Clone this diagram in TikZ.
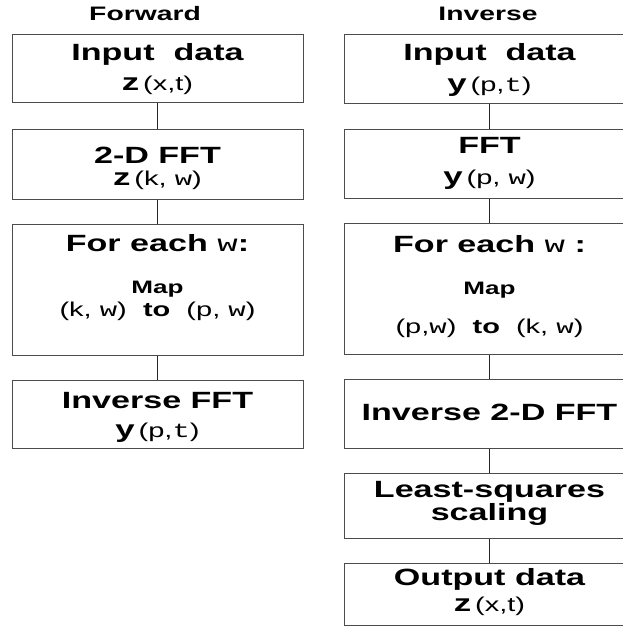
\documentclass[tikz,border=0pt]{standalone}
\usepackage{fontspec}
\setmainfont{Liberation Sans}[FakeStretch=1.45]
\newfontfamily\monof{Liberation Mono}[FakeStretch=1.45]
\newcommand{\mw}{{\monof\mdseries w}}
\newcommand{\mt}{{\monof\mdseries t}}
\newcommand{\fld}[2]{{\fontsize{24}{28}\selectfont\bfseries #1}\,{\fontsize{20}{24}\selectfont\mdseries #2}}
\begin{document}
\begin{tikzpicture}[x=1pt,y=-1pt,
  box/.style={draw=black!70,line width=0.9pt,minimum width=291pt,inner sep=0pt,
    anchor=north,align=center,font=\fontsize{23.5}{28}\selectfont\bfseries},
  title/.style={font=\fontsize{19.5}{22}\selectfont\bfseries},
  link/.style={draw=black!85,line width=0.8pt}]
\useasboundingbox (0,0) rectangle (622,631);

% Column titles
\node[title] (fwd) at (145,14) {Forward};
\node[title] (inv) at (488,14) {Inverse};

% Forward column (text height = last baseline, text depth = rest of box)
\node[box,text height=56pt,text depth=12pt] (f1) at (157.5,34) {Input\ \ data\\[2pt]\fld{z}{(x,t)}};
\node[box,text height=56pt,text depth=14pt] (f2) at (157.5,129) {2-D FFT\\[-6pt]\fld{z}{(k, \mw)}};
\node[box,text height=92pt,text depth=39pt] (f3) at (157.5,224) {For each \mw:\\[14pt]{\fontsize{18}{20}\selectfont Map}\\[-5pt]{\fontsize{20}{24}\selectfont\mdseries (k, \mw) \ {\bfseries to} \ (p, \mw)}};
\node[box,text height=57pt,text depth=11pt] (f4) at (157.5,380) {Inverse FFT\\[1pt]\fld{y}{(p,\mt)}};

% Inverse column
\node[box,text height=57pt,text depth=12pt] (i1) at (489.5,34) {Input\ \ data\\[3pt]\fld{y}{(p,\mt)}};
\node[box,text height=55pt,text depth=14pt] (i2) at (489.5,129) {FFT\\[3pt]\fld{y}{(p, \mw)}};
\node[box,text height=110pt,text depth=21pt] (i3) at (489.5,223) {For each \mw\ :\\[14pt]{\fontsize{18}{20}\selectfont Map}\\[11pt]{\fontsize{20}{24}\selectfont\mdseries (p,\mw) \ {\bfseries to} \ (k, \mw)}};
\node[box,text height=41pt,text depth=28pt] (i4) at (489.5,379) {Inverse 2-D FFT};
\node[box,text height=47pt,text depth=18pt] (i5) at (489.5,473) {Least-squares\\[-5pt]scaling};
\node[box,text height=48pt,text depth=14pt] (i6) at (489.5,563) {Output data\\[-2pt]\fld{z}{(x,t)}};

% Connectors
\foreach \a/\b in {f1/f2,f2/f3,f3/f4,i1/i2,i2/i3,i3/i4,i4/i5,i5/i6}
  \draw[link] (\a) -- (\b);
\end{tikzpicture}
\end{document}
